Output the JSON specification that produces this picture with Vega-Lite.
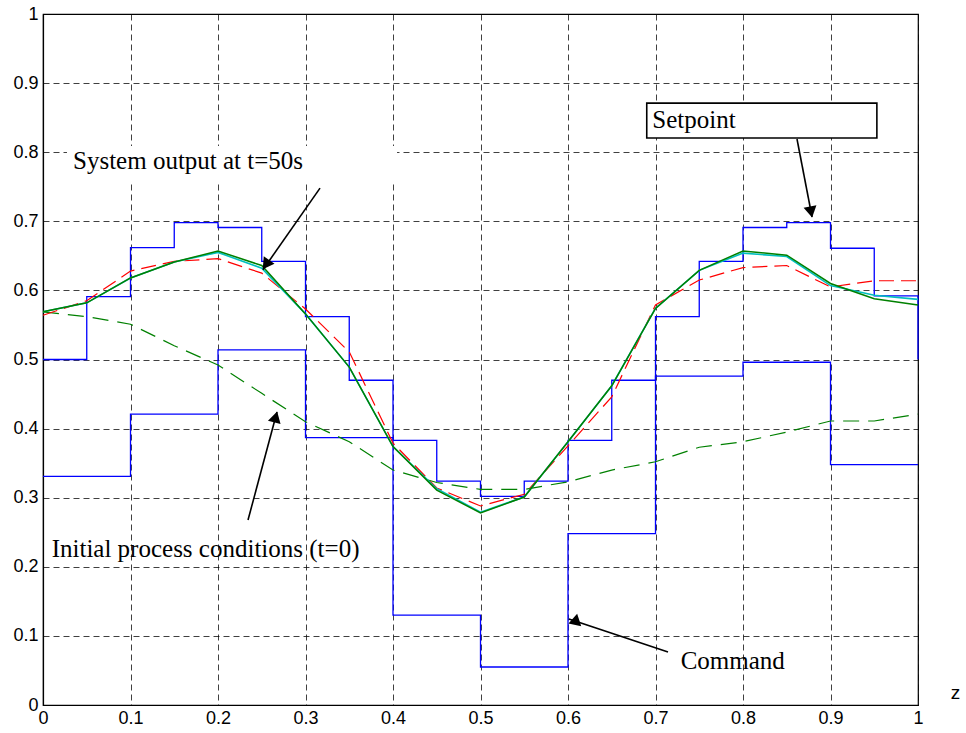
{
  "$schema": "https://vega.github.io/schema/vega-lite/v6.json",
  "width": 875,
  "height": 691,
  "autosize": "none",
  "padding": {"left": 43, "top": 14, "right": 48, "bottom": 28},
  "background": "white",
  "config": {
    "view": {"stroke": "black", "strokeWidth": 1.2},
    "axis": {
      "grid": true,
      "gridDash": [6, 4],
      "gridColor": "#000000",
      "gridOpacity": 0.75,
      "gridWidth": 1,
      "domainColor": "#000000",
      "domainWidth": 1.2,
      "ticks": false,
      "labelFont": "Liberation Sans",
      "labelFontSize": 18,
      "labelColor": "#000000",
      "labelFlush": false,
      "labelOverlap": false,
      "titleFont": "Liberation Sans",
      "titleFontSize": 19,
      "titleFontWeight": "normal",
      "titleColor": "#000000"
    }
  },
  "datasets": {
    "curves": [
      {"s": "setpoint", "z": 0.0, "v": 0.500}, {"s": "setpoint", "z": 0.05, "v": 0.591}, {"s": "setpoint", "z": 0.1, "v": 0.662}, {"s": "setpoint", "z": 0.15, "v": 0.698}, {"s": "setpoint", "z": 0.2, "v": 0.691}, {"s": "setpoint", "z": 0.25, "v": 0.642}, {"s": "setpoint", "z": 0.3, "v": 0.562}, {"s": "setpoint", "z": 0.35, "v": 0.470}, {"s": "setpoint", "z": 0.4, "v": 0.383}, {"s": "setpoint", "z": 0.45, "v": 0.324}, {"s": "setpoint", "z": 0.5, "v": 0.302}, {"s": "setpoint", "z": 0.55, "v": 0.324}, {"s": "setpoint", "z": 0.6, "v": 0.383}, {"s": "setpoint", "z": 0.65, "v": 0.470}, {"s": "setpoint", "z": 0.7, "v": 0.562}, {"s": "setpoint", "z": 0.75, "v": 0.642}, {"s": "setpoint", "z": 0.8, "v": 0.691}, {"s": "setpoint", "z": 0.85, "v": 0.698}, {"s": "setpoint", "z": 0.9, "v": 0.661}, {"s": "setpoint", "z": 0.95, "v": 0.592}, {"s": "setpoint", "z": 1.0, "v": 0.500},
      {"s": "command", "z": 0.0, "v": 0.331}, {"s": "command", "z": 0.1, "v": 0.421}, {"s": "command", "z": 0.2, "v": 0.514}, {"s": "command", "z": 0.3, "v": 0.387}, {"s": "command", "z": 0.4, "v": 0.130}, {"s": "command", "z": 0.5, "v": 0.055}, {"s": "command", "z": 0.6, "v": 0.248}, {"s": "command", "z": 0.7, "v": 0.476}, {"s": "command", "z": 0.8, "v": 0.496}, {"s": "command", "z": 0.9, "v": 0.348}, {"s": "command", "z": 1.0, "v": 0.348},
      {"s": "red", "z": 0.0, "v": 0.564}, {"s": "red", "z": 0.05, "v": 0.585}, {"s": "red", "z": 0.1, "v": 0.628}, {"s": "red", "z": 0.15, "v": 0.642}, {"s": "red", "z": 0.2, "v": 0.646}, {"s": "red", "z": 0.25, "v": 0.625}, {"s": "red", "z": 0.3, "v": 0.573}, {"s": "red", "z": 0.35, "v": 0.511}, {"s": "red", "z": 0.4, "v": 0.379}, {"s": "red", "z": 0.45, "v": 0.314}, {"s": "red", "z": 0.5, "v": 0.288}, {"s": "red", "z": 0.55, "v": 0.305}, {"s": "red", "z": 0.6, "v": 0.375}, {"s": "red", "z": 0.65, "v": 0.446}, {"s": "red", "z": 0.7, "v": 0.579}, {"s": "red", "z": 0.75, "v": 0.615}, {"s": "red", "z": 0.8, "v": 0.633}, {"s": "red", "z": 0.85, "v": 0.636}, {"s": "red", "z": 0.9, "v": 0.605}, {"s": "red", "z": 0.95, "v": 0.614}, {"s": "red", "z": 1.0, "v": 0.614},
      {"s": "initial", "z": 0.0, "v": 0.569}, {"s": "initial", "z": 0.05, "v": 0.562}, {"s": "initial", "z": 0.1, "v": 0.551}, {"s": "initial", "z": 0.15, "v": 0.520}, {"s": "initial", "z": 0.2, "v": 0.492}, {"s": "initial", "z": 0.25, "v": 0.451}, {"s": "initial", "z": 0.3, "v": 0.410}, {"s": "initial", "z": 0.35, "v": 0.381}, {"s": "initial", "z": 0.4, "v": 0.340}, {"s": "initial", "z": 0.45, "v": 0.322}, {"s": "initial", "z": 0.5, "v": 0.312}, {"s": "initial", "z": 0.55, "v": 0.312}, {"s": "initial", "z": 0.6, "v": 0.323}, {"s": "initial", "z": 0.65, "v": 0.340}, {"s": "initial", "z": 0.7, "v": 0.352}, {"s": "initial", "z": 0.75, "v": 0.373}, {"s": "initial", "z": 0.8, "v": 0.381}, {"s": "initial", "z": 0.85, "v": 0.395}, {"s": "initial", "z": 0.9, "v": 0.411}, {"s": "initial", "z": 0.95, "v": 0.411}, {"s": "initial", "z": 1.0, "v": 0.421},
      {"s": "cyan", "z": 0.0, "v": 0.569}, {"s": "cyan", "z": 0.05, "v": 0.582}, {"s": "cyan", "z": 0.1, "v": 0.618}, {"s": "cyan", "z": 0.15, "v": 0.641}, {"s": "cyan", "z": 0.2, "v": 0.655}, {"s": "cyan", "z": 0.25, "v": 0.632}, {"s": "cyan", "z": 0.3, "v": 0.566}, {"s": "cyan", "z": 0.35, "v": 0.489}, {"s": "cyan", "z": 0.4, "v": 0.374}, {"s": "cyan", "z": 0.45, "v": 0.313}, {"s": "cyan", "z": 0.5, "v": 0.279}, {"s": "cyan", "z": 0.55, "v": 0.301}, {"s": "cyan", "z": 0.6, "v": 0.381}, {"s": "cyan", "z": 0.65, "v": 0.462}, {"s": "cyan", "z": 0.7, "v": 0.574}, {"s": "cyan", "z": 0.75, "v": 0.629}, {"s": "cyan", "z": 0.8, "v": 0.654}, {"s": "cyan", "z": 0.85, "v": 0.649}, {"s": "cyan", "z": 0.9, "v": 0.607}, {"s": "cyan", "z": 0.95, "v": 0.593}, {"s": "cyan", "z": 1.0, "v": 0.587},
      {"s": "output", "z": 0.0, "v": 0.569}, {"s": "output", "z": 0.05, "v": 0.582}, {"s": "output", "z": 0.1, "v": 0.618}, {"s": "output", "z": 0.15, "v": 0.641}, {"s": "output", "z": 0.2, "v": 0.657}, {"s": "output", "z": 0.25, "v": 0.636}, {"s": "output", "z": 0.3, "v": 0.566}, {"s": "output", "z": 0.35, "v": 0.489}, {"s": "output", "z": 0.4, "v": 0.374}, {"s": "output", "z": 0.45, "v": 0.311}, {"s": "output", "z": 0.5, "v": 0.278}, {"s": "output", "z": 0.55, "v": 0.301}, {"s": "output", "z": 0.6, "v": 0.381}, {"s": "output", "z": 0.65, "v": 0.462}, {"s": "output", "z": 0.7, "v": 0.574}, {"s": "output", "z": 0.75, "v": 0.629}, {"s": "output", "z": 0.8, "v": 0.657}, {"s": "output", "z": 0.85, "v": 0.651}, {"s": "output", "z": 0.9, "v": 0.610}, {"s": "output", "z": 0.95, "v": 0.588}, {"s": "output", "z": 1.0, "v": 0.579}
    ],
    "boxes": [
      {"kind": "blank", "z": 0.0274, "z2": 0.4046, "v": 0.809, "v2": 0.7554},
      {"kind": "framed", "z": 0.690, "z2": 0.953, "v": 0.871, "v2": 0.8205}
    ],
    "arrows": [
      {"label": "System output at t=50s", "z": 0.3166, "v": 0.748, "z2": 0.2514, "v2": 0.630, "hz": 0.256, "hv": 0.6396, "angle": 214.6},
      {"label": "Setpoint", "z": 0.8617, "v": 0.8191, "z2": 0.8789, "v2": 0.7062, "hz": 0.8774, "hv": 0.7162, "angle": 169.1},
      {"label": "Initial process conditions (t=0)", "z": 0.2343, "v": 0.2677, "z2": 0.2674, "v2": 0.424, "hz": 0.2654, "hv": 0.4142, "angle": 15.0},
      {"label": "Command", "z": 0.7143, "v": 0.0767, "z2": 0.6011, "v2": 0.1245, "hz": 0.6087, "hv": 0.1213, "angle": 251.9}
    ],
    "notes": [
      {"text": "System output at t=50s", "z": 0.0343, "v": 0.7757},
      {"text": "Setpoint", "z": 0.6963, "v": 0.8346},
      {"text": "Initial process conditions (t=0)", "z": 0.0099, "v": 0.2142},
      {"text": "Command", "z": 0.7288, "v": 0.0521}
    ]
  },
  "encoding": {
    "x": {
      "field": "z", "type": "quantitative",
      "scale": {"domain": [0, 1], "nice": false, "zero": false},
      "axis": {
        "values": [0, 0.1, 0.2, 0.3, 0.4, 0.5, 0.6, 0.7, 0.8, 0.9, 1],
        "format": "~g",
        "labelPadding": 4,
        "title": "z",
        "titleX": 912,
        "titleY": -13,
        "titleAlign": "center",
        "titleBaseline": "middle",
        "titleAnchor": null
      }
    },
    "y": {
      "field": "v", "type": "quantitative",
      "scale": {"domain": [0, 1], "nice": false, "zero": false},
      "axis": {
        "values": [0, 0.1, 0.2, 0.3, 0.4, 0.5, 0.6, 0.7, 0.8, 0.9, 1],
        "format": "~g",
        "labelPadding": 5,
        "title": null
      }
    }
  },
  "layer": [
    {
      "data": {"name": "boxes"},
      "transform": [{"filter": "datum.kind === 'blank'"}],
      "mark": {"type": "rect", "fill": "white", "strokeWidth": 0},
      "encoding": {"x2": {"field": "z2"}, "y2": {"field": "v2"}}
    },
    {
      "data": {"name": "curves"},
      "transform": [{"filter": "datum.s === 'command'"}],
      "mark": {"type": "line", "interpolate": "step-after", "color": "#0000ff", "strokeWidth": 1.3}
    },
    {
      "data": {"name": "curves"},
      "transform": [{"filter": "datum.s === 'setpoint'"}],
      "mark": {"type": "line", "interpolate": "step-after", "color": "#0000ff", "strokeWidth": 1.3}
    },
    {
      "data": {"name": "curves"},
      "transform": [{"filter": "datum.s === 'initial'"}],
      "mark": {"type": "line", "color": "#008000", "strokeWidth": 1.2, "strokeDash": [16, 9]}
    },
    {
      "data": {"name": "curves"},
      "transform": [{"filter": "datum.s === 'red'"}],
      "mark": {"type": "line", "color": "#ff0000", "strokeWidth": 1.2, "strokeDash": [15, 7]}
    },
    {
      "data": {"name": "curves"},
      "transform": [{"filter": "datum.s === 'cyan'"}],
      "mark": {"type": "line", "color": "#00bfbf", "strokeWidth": 1.6}
    },
    {
      "data": {"name": "curves"},
      "transform": [{"filter": "datum.s === 'output'"}],
      "mark": {"type": "line", "color": "#008000", "strokeWidth": 1.5}
    },
    {
      "data": {"name": "boxes"},
      "transform": [{"filter": "datum.kind === 'framed'"}],
      "mark": {"type": "rect", "fill": "white", "stroke": "black", "strokeWidth": 1.6},
      "encoding": {"x2": {"field": "z2"}, "y2": {"field": "v2"}}
    },
    {
      "data": {"name": "arrows"},
      "mark": {"type": "rule", "color": "black", "strokeWidth": 1.6},
      "encoding": {"x2": {"field": "z2"}, "y2": {"field": "v2"}}
    },
    {
      "data": {"name": "arrows"},
      "mark": {"type": "point", "shape": "triangle", "filled": true, "color": "black", "opacity": 1, "size": 170},
      "encoding": {
        "x": {"field": "hz", "type": "quantitative"},
        "y": {"field": "hv", "type": "quantitative"},
        "angle": {"field": "angle", "type": "quantitative", "scale": null}
      }
    },
    {
      "data": {"name": "notes"},
      "mark": {"type": "text", "align": "left", "baseline": "alphabetic", "font": "Liberation Serif", "fontSize": 25, "color": "black"},
      "encoding": {"text": {"field": "text"}}
    }
  ]
}
